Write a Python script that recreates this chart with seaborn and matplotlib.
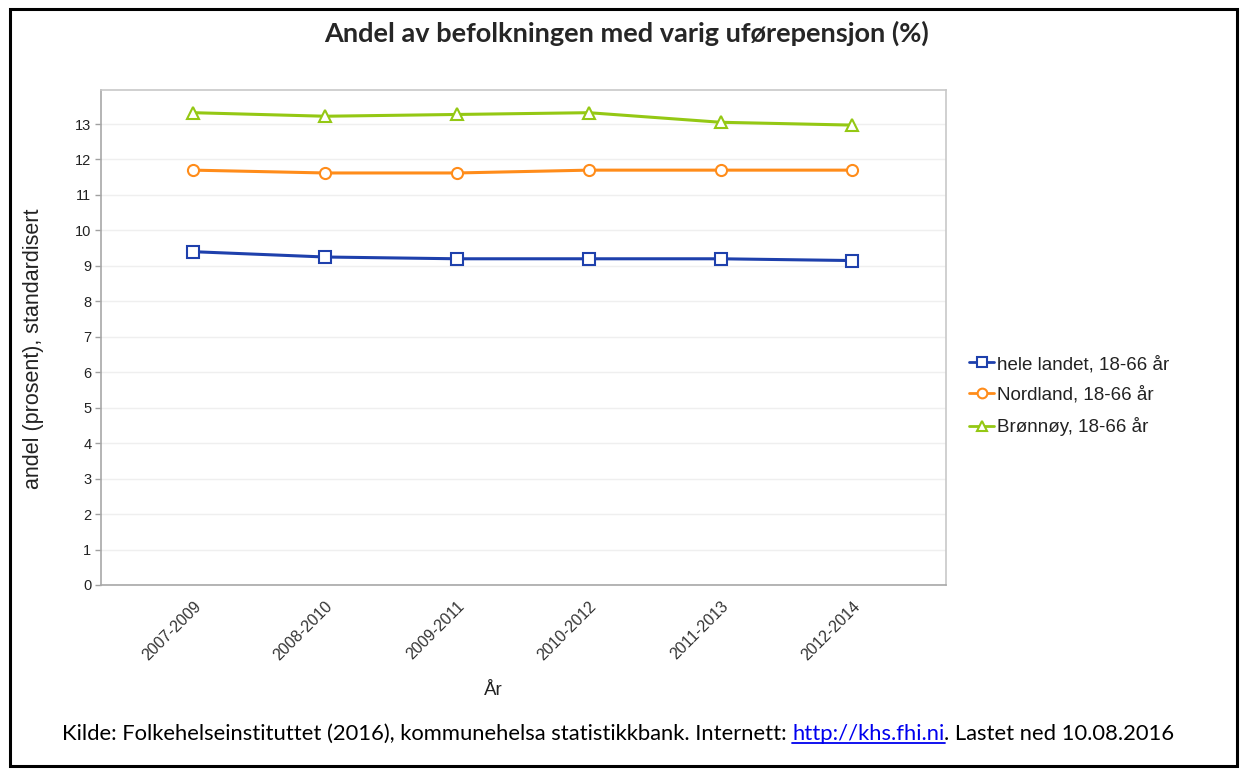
import pandas as pd
import matplotlib.pyplot as plt
import matplotlib.transforms as mtransforms
import seaborn as sns
from matplotlib.patches import Rectangle
from matplotlib.lines import Line2D

periods = ["2007-2009", "2008-2010", "2009-2011", "2010-2012", "2011-2013", "2012-2014"]
series_names = ["hele landet, 18-66 år", "Nordland, 18-66 år", "Brønnøy, 18-66 år"]
hele_landet = [9.4, 9.25, 9.2, 9.2, 9.2, 9.15]
nordland = [11.7, 11.62, 11.62, 11.7, 11.7, 11.7]
bronnoy = [13.32, 13.22, 13.27, 13.32, 13.05, 12.97]

colors = ["#1e40ac", "#ff8c1a", "#94c814"]
markers = ["s", "o", "^"]

df = pd.DataFrame({
    "period": periods * 3,
    "value": hele_landet + nordland + bronnoy,
    "series": [s for s in series_names for _ in periods],
})
df["pos"] = [i for _ in series_names for i in range(len(periods))]


def main():
    sns.set_theme(style="white")
    plt.rcParams["font.family"] = ["Liberation Sans", "DejaVu Sans"]

    fig = plt.figure(figsize=(12.47, 7.76), dpi=100)
    ax = fig.add_axes([101 / 1247, 1 - 585 / 776, (946 - 101) / 1247, (585 - 90) / 776])

    sns.lineplot(data=df, x="pos", y="value", hue="series", style="series",
                 hue_order=series_names, style_order=series_names,
                 palette=colors, markers=markers, dashes=False,
                 linewidth=2.2, markersize=8, legend=False, ax=ax)

    for line, c in zip(ax.lines, colors):
        line.set_markerfacecolor("white")
        line.set_markeredgecolor(c)
        line.set_markeredgewidth(1.5)

    ax.set_xlim(-0.7, 5.71)
    ax.set_ylim(0, 13.96)
    ax.set_yticks(range(0, 14))
    ax.set_xticks(range(len(periods)))
    ax.set_xticklabels(periods, rotation=45, ha="right", va="top",
                       rotation_mode="anchor", fontsize=11.5, color="#333333")
    shift = mtransforms.ScaledTranslation(6 / 100, 2 / 100, fig.dpi_scale_trans)
    for lbl in ax.get_xticklabels():
        lbl.set_transform(lbl.get_transform() + shift)
    ax.tick_params(axis="y", length=4, width=1, color="#a0a0a0", labelsize=10.5,
                   labelcolor="#222222", left=True, pad=3)
    ax.tick_params(axis="x", length=0, pad=10)
    ax.yaxis.grid(True, color="#efefef", linewidth=1)
    ax.xaxis.grid(False)
    for side, sp in ax.spines.items():
        sp.set_color("#c8c8c8")
        sp.set_linewidth(1.2)
    ax.spines["left"].set_color("#a8a8a8")
    ax.spines["bottom"].set_color("#a8a8a8")

    ax.set_xlabel("År", fontsize=13.5, color="#222222")
    ax.xaxis.set_label_coords((493 - 101) / (946 - 101), -0.195)
    ax.set_ylabel("andel (prosent), standardisert", fontsize=15.5, color="#222222")
    ax.yaxis.set_label_coords(-0.067, 0.478)

    handles = [Line2D([], [], color=c, marker=m, markerfacecolor="white",
                      markeredgecolor=c, markeredgewidth=1.5, markersize=7, linewidth=2)
               for c, m in zip(colors, markers)]
    fig.legend(handles, series_names, loc="center left",
               bbox_to_anchor=(952 / 1247, 1 - 396 / 776), frameon=False,
               fontsize=13.5, handlelength=1.35, handletextpad=0.15, labelspacing=0.72,
               labelcolor="#222222")

    fig.text(627 / 1247, 1 - 33 / 776, "Andel av befolkningen med varig uførepensjon (%)",
             ha="center", va="center", fontsize=19.5, fontweight="bold", family="Lato")

    # kildetekst med lenke
    y_src = 1 - 734 / 776
    fig.canvas.draw()
    r = fig.canvas.get_renderer()
    parts = [("Kilde: Folkehelseinstituttet (2016), kommunehelsa statistikkbank. Internett: ", "black"),
             ("http://khs.fhi.ni", "#0000ee"),
             (". Lastet ned 10.08.2016", "black")]
    x = 62 / 1247
    for txt, col in parts:
        t = fig.text(x, y_src, txt, ha="left", va="center", fontsize=15.8, family="Lato", color=col)
        bb = t.get_window_extent(r)
        if col != "black":
            fig.add_artist(Line2D([bb.x0 / 1247, bb.x1 / 1247], [(bb.y0 + 1) / 776] * 2,
                                  color=col, linewidth=1.3, transform=fig.transFigure))
        x = bb.x1 / 1247

    fig.add_artist(Rectangle((10 / 1247, 1 - 766 / 776), 1227 / 1247, 757 / 776,
                             transform=fig.transFigure, fill=False, edgecolor="black", linewidth=2.2))

    fig.savefig("out.png", dpi=100)


if __name__ == "__main__":
    main()
